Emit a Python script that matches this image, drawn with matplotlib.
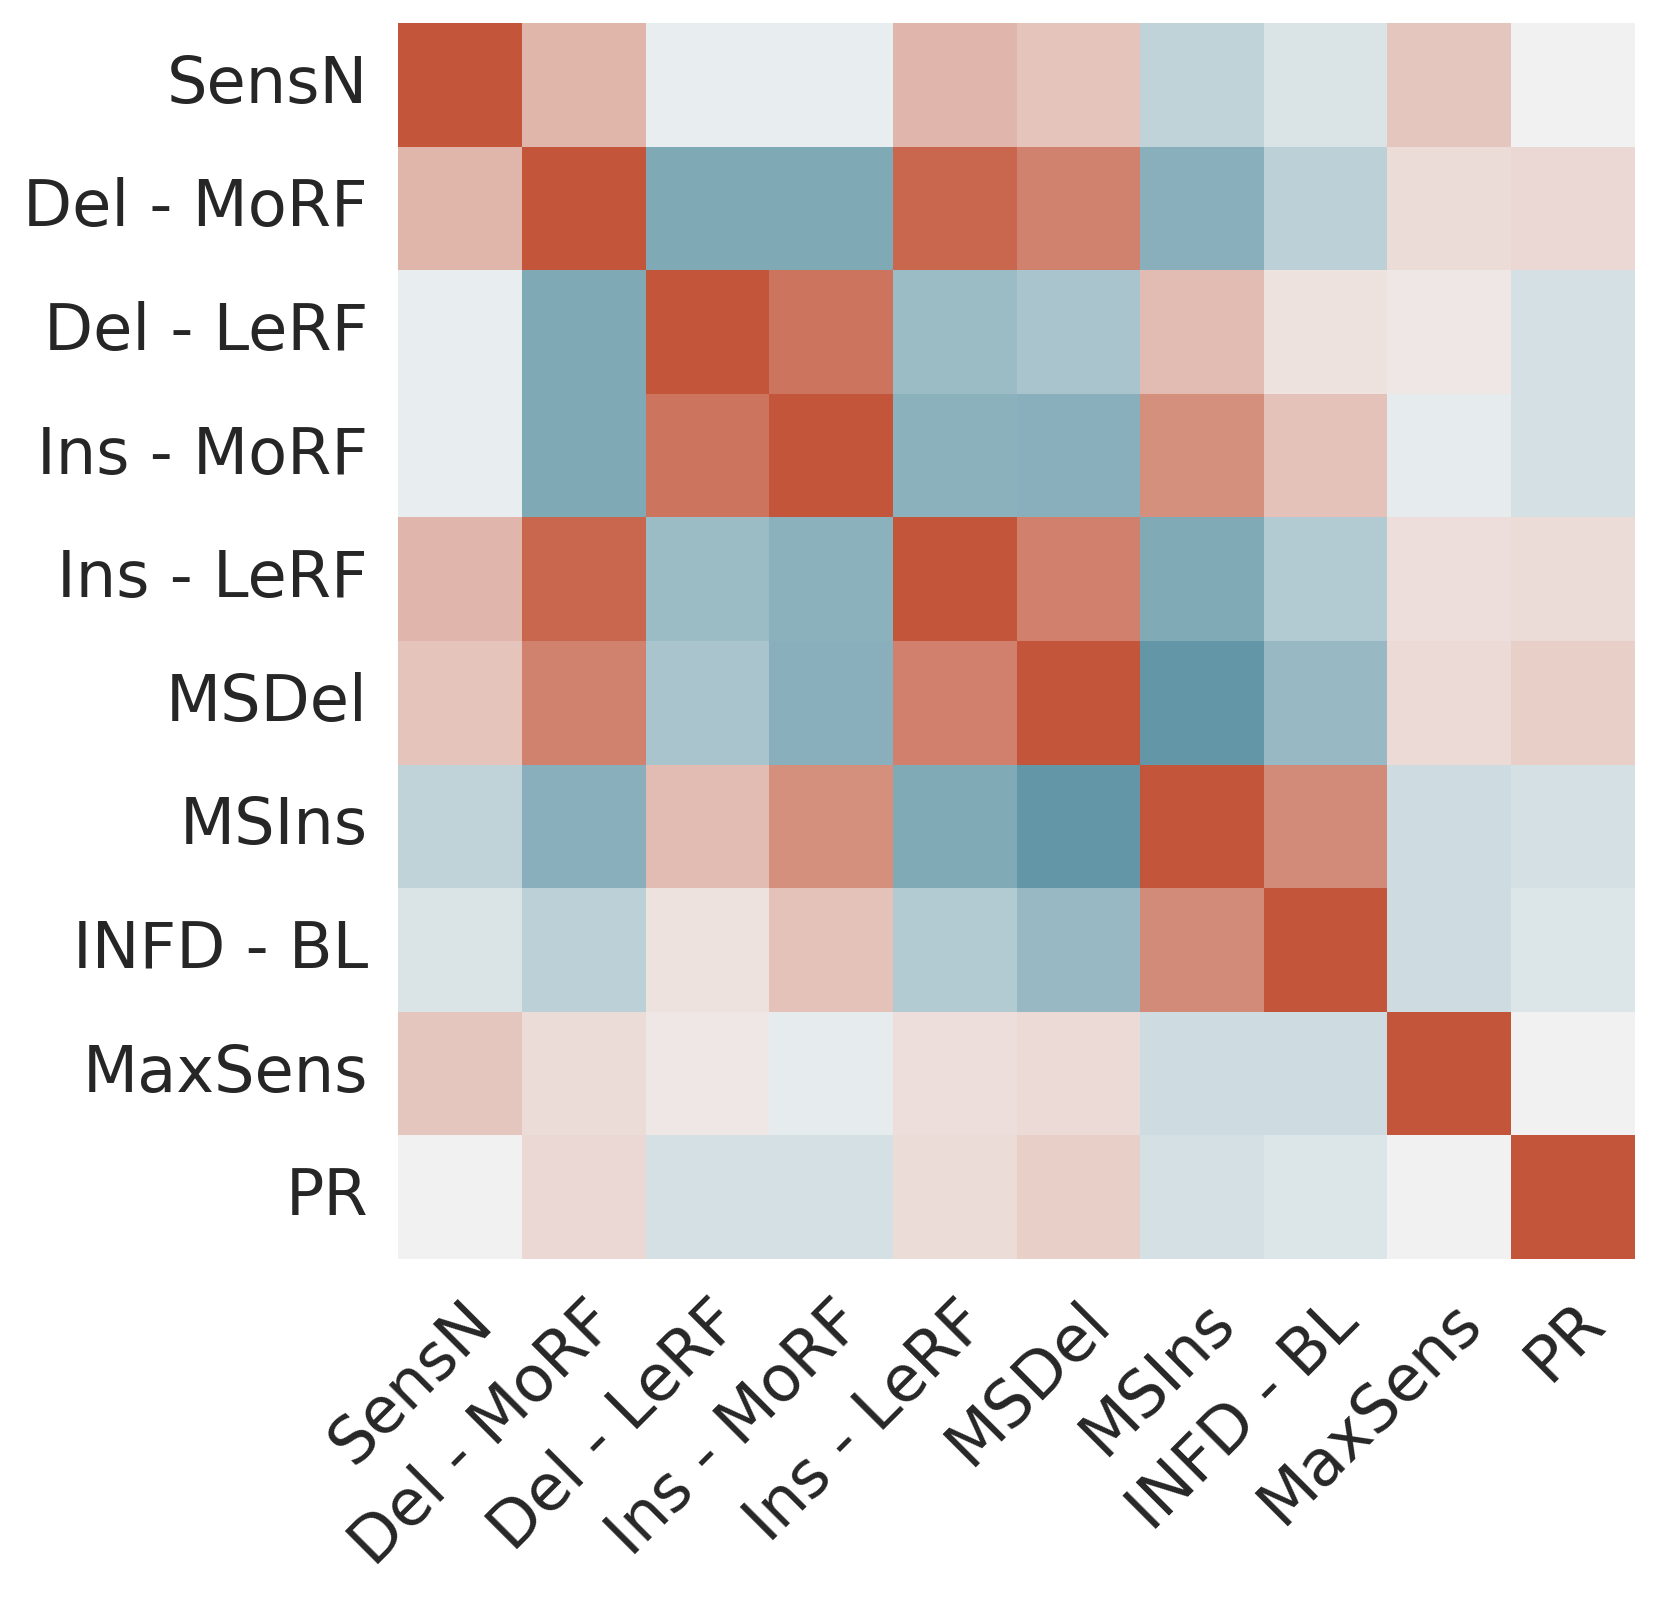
import numpy as np
import matplotlib
matplotlib.use("Agg")
import matplotlib.pyplot as plt
import seaborn as sns

labels = ['SensN', 'Del - MoRF', 'Del - LeRF', 'Ins - MoRF', 'Ins - LeRF',
          'MSDel', 'MSIns', 'INFD - BL', 'MaxSens', 'PR']

# correlation matrix
corr = np.array([
    [1.00, 0.39, -0.04, -0.04, 0.38, 0.29, -0.27, -0.12, 0.28, 0.00],
    [0.39, 1.00, -0.63, -0.63, 0.89, 0.71, -0.58, -0.29, 0.14, 0.16],
    [-0.04, -0.63, 1.00, 0.80, -0.48, -0.40, 0.34, 0.10, 0.07, -0.16],
    [-0.04, -0.63, 0.80, 1.00, -0.57, -0.58, 0.63, 0.31, -0.06, -0.16],
    [0.38, 0.89, -0.48, -0.57, 1.00, 0.72, -0.62, -0.35, 0.12, 0.14],
    [0.29, 0.71, -0.40, -0.58, 0.72, 1.00, -0.79, -0.50, 0.15, 0.22],
    [-0.27, -0.58, 0.34, 0.63, -0.62, -0.79, 1.00, 0.65, -0.19, -0.16],
    [-0.12, -0.29, 0.10, 0.31, -0.35, -0.50, 0.65, 1.00, -0.19, -0.11],
    [0.28, 0.14, 0.07, -0.06, 0.12, 0.15, -0.19, -0.19, 1.00, 0.00],
    [0.00, 0.16, -0.16, -0.16, 0.14, 0.22, -0.16, -0.11, 0.00, 1.00],
])

sns.set_theme(style='white')
plt.rcParams['font.family'] = ['DejaVu Sans']

fig = plt.figure(figsize=(8.305, 8.015), dpi=200)
ax = fig.add_axes([0.2396, 0.2146, 0.7448, 0.7711])
cmap = sns.diverging_palette(220, 20, as_cmap=True)
sns.heatmap(corr, cmap=cmap, vmin=-1, vmax=1, center=0, square=True,
            cbar=False, xticklabels=labels, yticklabels=labels, ax=ax)

ax.tick_params(axis='both', length=0, pad=11, labelsize=23, colors='#262626')
plt.setp(ax.get_xticklabels(), rotation=45, ha='right', rotation_mode='anchor')
plt.setp(ax.get_yticklabels(), rotation=0)

fig.savefig('out.png', dpi=200)
